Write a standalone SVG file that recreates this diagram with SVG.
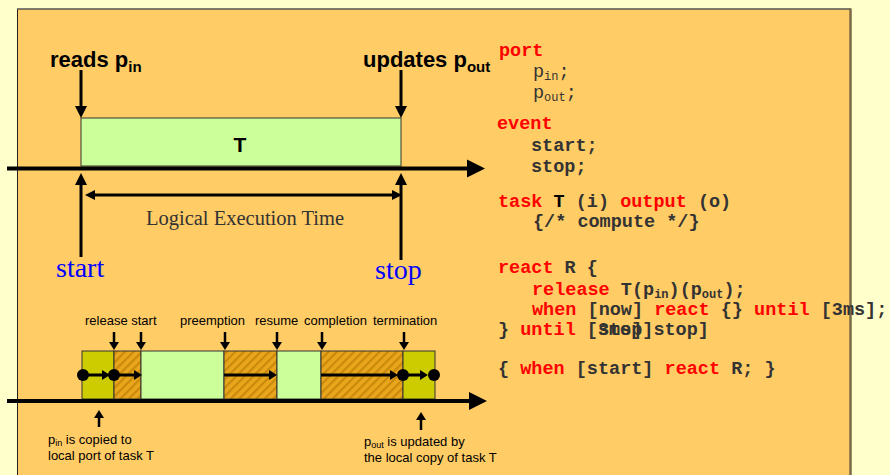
<svg xmlns="http://www.w3.org/2000/svg" width="890" height="475" viewBox="0 0 890 475">
  <style>
    .sans { font-family: "Liberation Sans", Arial, sans-serif; fill: #000; }
    .bold { font-weight: bold; }
    .serif { font-family: "Liberation Serif", "Times New Roman", serif; }
    .code { font-family: "Liberation Mono", "Courier New", monospace; font-size: 18.5px; font-weight: bold; fill: #333333; white-space: pre; }
    .kw { fill: #FF0000; }
    .blk { fill: #000; }
    .thick { stroke: #000; stroke-width: 4; fill: none; }
    .med { stroke: #000; stroke-width: 3; fill: none; }
    .thin { stroke: #000; stroke-width: 2.5; fill: none; }
    .box { stroke: #333; stroke-width: 1; }
    .green { fill: #CCFF99; }
    .olive { fill: #CCCC00; }
    .hatch { fill: url(#hatch); }
  </style>
  <defs>
    <pattern id="hatch" patternUnits="userSpaceOnUse" width="6" height="6" patternTransform="rotate(45)">
      <rect width="6" height="6" fill="#E9A61C"/>
      <rect width="2.2" height="6" fill="#C98A0C"/>
    </pattern>
    <marker id="headL" markerUnits="userSpaceOnUse" markerWidth="18" markerHeight="18" refX="0" refY="9" orient="auto" overflow="visible">
      <path d="M0,0 L18,9 L0,18 z" fill="#000"/>
    </marker>
    <marker id="headM" markerUnits="userSpaceOnUse" markerWidth="12" markerHeight="12" refX="0" refY="6" orient="auto-start-reverse" overflow="visible">
      <path d="M0,0 L12,6 L0,12 z" fill="#000"/>
    </marker>
    <marker id="headS" markerUnits="userSpaceOnUse" markerWidth="10" markerHeight="10" refX="0" refY="5" orient="auto-start-reverse" overflow="visible">
      <path d="M0,0 L10,5 L0,10 z" fill="#000"/>
    </marker>
    <marker id="headT" markerUnits="userSpaceOnUse" markerWidth="8" markerHeight="10" refX="0" refY="5" orient="auto" overflow="visible">
      <path d="M0,0 L8,5 L0,10 z" fill="#000"/>
    </marker>
  </defs>

  <!-- page background and slide panel -->
  <rect x="0" y="0" width="890" height="475" fill="#FFFFCC"/>
  <rect x="17" y="9" width="833" height="480" fill="#FFCC66"/>
  <line x1="17.5" y1="9" x2="17.5" y2="475" stroke="#222" stroke-width="1"/>
  <line x1="17" y1="9" x2="851" y2="9" stroke="#555" stroke-width="1.5"/>
  <line x1="850.5" y1="8.5" x2="850.5" y2="475" stroke="#7A6A45" stroke-width="2.5"/>

  <!-- upper timeline: logical execution time -->
  <g id="task-T">
    <rect class="green box" x="81" y="118" width="320" height="48"/>
    <text class="sans bold" x="240" y="152" font-size="21" text-anchor="middle">T</text>
  </g>
  <g id="label-reads">
    <text class="sans bold" x="50" y="67" font-size="22">reads p<tspan font-size="15" dy="5">in</tspan></text>
  </g>
  <g id="label-updates">
    <text class="sans bold" x="363" y="67" font-size="22">updates p<tspan font-size="15" dy="5">out</tspan></text>
  </g>
  <g id="label-let">
    <text class="serif" x="245" y="225" font-size="20.5" fill="#333333" text-anchor="middle">Logical Execution Time</text>
  </g>
  <g id="event-start">
    <text class="serif" x="56" y="277" font-size="28" fill="#0000FF">start</text>
  </g>
  <g id="event-stop">
    <text class="serif" x="375" y="279" font-size="28" fill="#0000FF">stop</text>
  </g>

  <!-- lower timeline: physical execution segments -->
  <g id="execution">
    <rect class="olive box" x="82" y="351" width="32" height="48"/>
    <rect class="hatch box" x="114" y="351" width="27" height="48"/>
    <rect class="green box" x="141" y="351" width="83" height="48"/>
    <rect class="hatch box" x="224" y="351" width="53" height="48"/>
    <rect class="green box" x="277" y="351" width="44" height="48"/>
    <rect class="hatch box" x="321" y="351" width="82" height="48"/>
    <rect class="olive box" x="403" y="351" width="32" height="48"/>
  </g>
  <g id="event-labels" class="sans" font-size="13">
    <text x="85" y="325">release start</text>
    <text x="180" y="325">preemption</text>
    <text x="255" y="325">resume</text>
    <text x="304" y="325">completion</text>
    <text x="373" y="325">termination</text>
  </g>
  <g id="note-in" class="sans" font-size="13">
    <text x="48" y="444">p<tspan font-size="9" dy="2">in</tspan><tspan dy="-2"> is copied to</tspan></text>
    <text x="48" y="460">local port of task T</text>
  </g>
  <g id="note-out" class="sans" font-size="13">
    <text x="364" y="446">p<tspan font-size="9" dy="2">out</tspan><tspan dy="-2"> is updated by</tspan></text>
    <text x="364" y="462">the local copy of task T</text>
  </g>

  <!-- connectors -->
  <g id="connectors">
    <!-- time axes -->
    <line class="thick" x1="7" y1="168.5" x2="467" y2="168.5" marker-end="url(#headL)"/>
    <line class="thick" x1="7" y1="401" x2="469" y2="401" marker-end="url(#headL)"/>
    <!-- port access arrows -->
    <line class="med" x1="81" y1="70" x2="81" y2="106" marker-end="url(#headM)"/>
    <line class="med" x1="401" y1="70" x2="401" y2="106" marker-end="url(#headM)"/>
    <!-- event arrows -->
    <line class="med" x1="81" y1="257" x2="81" y2="185" marker-end="url(#headM)"/>
    <line class="med" x1="401" y1="260" x2="401" y2="185" marker-end="url(#headM)"/>
    <!-- LET span -->
    <line class="med" x1="95" y1="195" x2="392" y2="195" marker-start="url(#headS)" marker-end="url(#headS)"/>
    <!-- event markers on the lower timeline -->
    <line class="thin" x1="114" y1="332" x2="114" y2="342" marker-end="url(#headT)"/>
    <line class="thin" x1="141" y1="332" x2="141" y2="342" marker-end="url(#headT)"/>
    <line class="thin" x1="225" y1="332" x2="225" y2="342" marker-end="url(#headT)"/>
    <line class="thin" x1="277" y1="332" x2="277" y2="342" marker-end="url(#headT)"/>
    <line class="thin" x1="322" y1="332" x2="322" y2="342" marker-end="url(#headT)"/>
    <line class="thin" x1="404" y1="332" x2="404" y2="342" marker-end="url(#headT)"/>
    <!-- copy arrows -->
    <line class="thin" x1="99" y1="427" x2="99" y2="418" marker-end="url(#headT)"/>
    <line class="thin" x1="421" y1="430" x2="421" y2="420" marker-end="url(#headT)"/>
    <!-- data flow through the execution -->
    <line class="med" x1="83" y1="375" x2="102" y2="375" marker-end="url(#headT)"/>
    <line class="med" x1="114" y1="375" x2="134" y2="375" marker-end="url(#headT)"/>
    <line class="med" x1="224" y1="375" x2="269" y2="375" marker-end="url(#headT)"/>
    <line class="med" x1="321" y1="375" x2="390" y2="375" marker-end="url(#headT)"/>
    <line class="med" x1="403" y1="375" x2="420" y2="375" marker-end="url(#headT)"/>
    <circle cx="83" cy="375" r="6" fill="#000"/>
    <circle cx="114" cy="375" r="6" fill="#000"/>
    <circle cx="403" cy="375" r="6" fill="#000"/>
    <circle cx="434" cy="375" r="6" fill="#000"/>
  </g>

  <!-- program text -->
  <g id="program" class="code">
    <text x="499" y="56" class="kw">port</text>
    <text x="533" y="77" font-weight="normal">p<tspan font-size="12" dy="3">in</tspan><tspan dy="-3">;</tspan></text>
    <text x="533" y="98" font-weight="normal">p<tspan font-size="12" dy="3">out</tspan><tspan dy="-3">;</tspan></text>
    <text x="497" y="129" class="kw">event</text>
    <text x="531" y="151">start;</text>
    <text x="531" y="172">stop;</text>
    <text x="498" y="207"><tspan class="kw">task</tspan> <tspan class="blk">T</tspan> (i) <tspan class="kw">output</tspan> (o)</text>
    <text x="533" y="227">{/* compute */}</text>
    <text x="498" y="273"><tspan class="kw">react</tspan> R {</text>
    <text x="532" y="295"><tspan class="kw">release</tspan> T(p<tspan font-size="12" dy="3">in</tspan><tspan dy="-3">)(p</tspan><tspan font-size="12" dy="3">out</tspan><tspan dy="-3">);</tspan></text>
    <text x="532" y="315"><tspan class="kw">when</tspan> [now] <tspan class="kw">react</tspan> {} <tspan class="kw">until</tspan> [3ms];</text>
    <text x="498" y="335">} <tspan class="kw">until</tspan> [3ms]</text>
    <text x="597.9" y="335">stop]stop]</text>
    <text x="498" y="374">{ <tspan class="kw">when</tspan> [start] <tspan class="kw">react</tspan> R; }</text>
  </g>
</svg>
